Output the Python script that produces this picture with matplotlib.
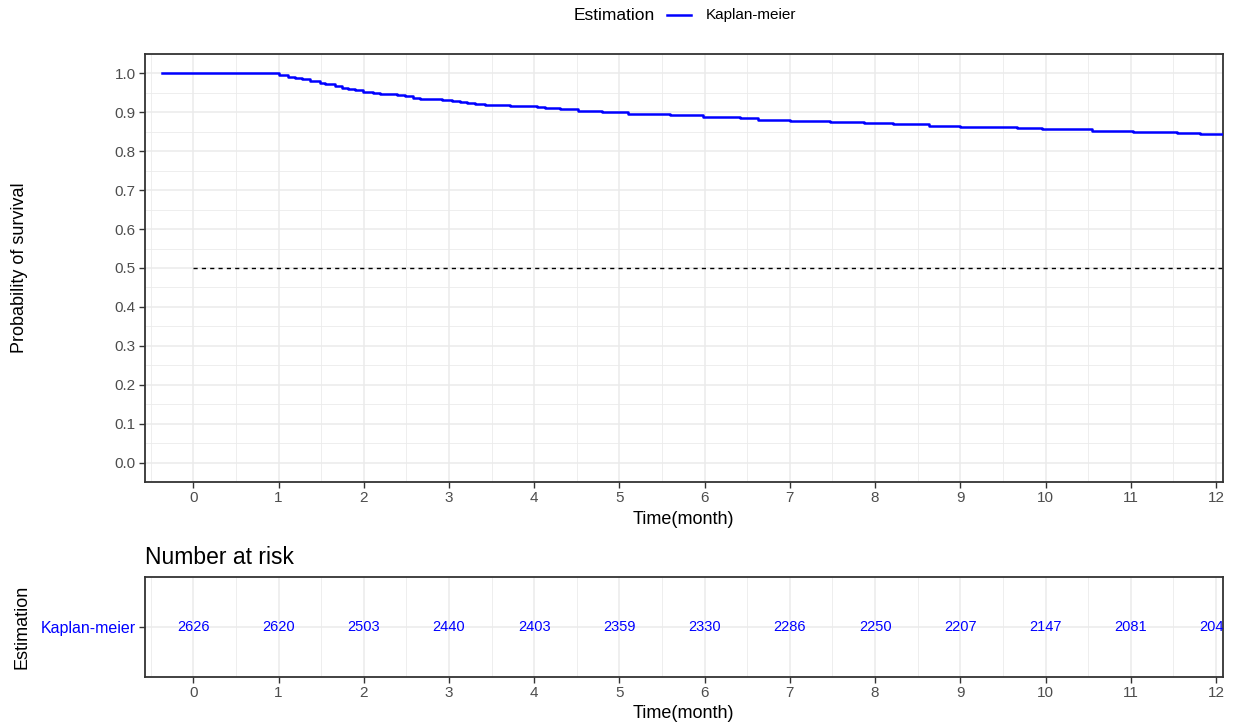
import matplotlib
matplotlib.use("Agg")
import matplotlib.pyplot as plt
from matplotlib.lines import Line2D
from matplotlib.ticker import MultipleLocator
import numpy as np

plt.rcParams['font.family'] = ['Liberation Sans', 'DejaVu Sans']

# ---- data ----
times = [-0.37, 1.0, 1.115, 1.194, 1.272, 1.37, 1.487, 1.546, 1.664, 1.742, 1.82,
         1.898, 1.995, 2.113, 2.19, 2.29, 2.387, 2.485, 2.58, 2.66, 2.915, 3.03,
         3.13, 3.209, 3.306, 3.424, 3.717, 4.03, 4.128, 4.304, 4.52, 4.79, 5.106,
         5.4, 5.595, 5.986, 6.417, 6.63, 7.004, 7.473, 7.868, 8.216, 8.627, 8.996,
         9.661, 9.955, 10.54, 11.03, 11.54, 11.81, 12.08]
surv = [1.0, 0.9967, 0.9915, 0.9879, 0.9846, 0.980, 0.976, 0.9717, 0.9666, 0.9632,
        0.9607, 0.957, 0.953, 0.951, 0.948, 0.946, 0.9434, 0.941, 0.938, 0.935,
        0.931, 0.930, 0.927, 0.9237, 0.922, 0.920, 0.917, 0.9134, 0.910, 0.9075,
        0.903, 0.9005, 0.897, 0.8946, 0.8928, 0.8887, 0.885, 0.881, 0.8774, 0.874,
        0.8715, 0.869, 0.866, 0.863, 0.8586, 0.856, 0.8527, 0.850, 0.8465, 0.8432,
        0.8432]
risk_times = [0, 1, 2, 3, 4, 5, 6, 7, 8, 9, 10, 11, 12]
n_at_risk = [2626, 2620, 2503, 2440, 2403, 2359, 2330, 2286, 2250, 2207, 2147, 2081, 2043]
strata_label = "Kaplan-meier"
legend_title = "Estimation"
median_level = 0.5

W, H = 1236, 728
fig = plt.figure(figsize=(W / 100, H / 100), dpi=100)

def fx(px):
    return px / W

def fy(py):
    return 1 - py / H

XLIM = (-0.570, 12.079)
BLUE = "#0000FF"
GRID = "#EBEBEB"
TICKC = "#4D4D4D"
BORDER = "#333333"

def style_axes(ax):
    for s in ax.spines.values():
        s.set_color(BORDER)
        s.set_linewidth(1.3)
    ax.tick_params(axis='both', colors=BORDER, labelcolor=TICKC, labelsize=11,
                   length=4, width=1.0, pad=2.5)
    ax.tick_params(which='minor', length=0)
    ax.set_axisbelow(True)

# ---- main survival panel ----
ax = fig.add_axes([fx(144.7), fy(482), fx(1222.7) - fx(144.7), fy(54) - fy(482)])
ax.set_xlim(*XLIM)
ax.set_ylim(-0.05, 1.05)
ax.xaxis.set_major_locator(MultipleLocator(1))
ax.xaxis.set_minor_locator(MultipleLocator(0.5))
ax.yaxis.set_major_locator(MultipleLocator(0.1))
ax.yaxis.set_minor_locator(MultipleLocator(0.05))
ax.grid(which='major', color=GRID, linewidth=1.1)
ax.grid(which='minor', color=GRID, linewidth=0.6)
ax.set_yticklabels([f"{v:.1f}" for v in ax.get_yticks()])
style_axes(ax)

ax.step(times, surv, where='post', color=BLUE, linewidth=1.8, zorder=3)
ax.plot([0, XLIM[1]], [median_level, median_level], color='black',
        linestyle=(0, (3, 3)), linewidth=1.0, zorder=2)

fig.text(fx((144.7 + 1222.7) / 2), fy(519), "Time(month)", ha='center', va='center',
         fontsize=13, color='black')
fig.text(fx(20), fy(268), "Probability of survival", rotation=90, ha='center',
         va='center', fontsize=13, color='black')

# ---- legend on top ----
fig.text(fx(574), fy(15), legend_title, ha='left', va='center', fontsize=12.5, color='black')
fig.add_artist(Line2D([fx(667), fx(691)], [fy(15), fy(15)], color=BLUE, linewidth=1.8,
                      transform=fig.transFigure))
fig.text(fx(706), fy(15), strata_label, ha='left', va='center', fontsize=11, color='black')

# ---- risk table ----
rax = fig.add_axes([fx(144.7), fy(677), fx(1222.7) - fx(144.7), fy(577) - fy(677)])
rax.set_xlim(*XLIM)
rax.set_ylim(0.4, 1.6)
rax.xaxis.set_major_locator(MultipleLocator(1))
rax.xaxis.set_minor_locator(MultipleLocator(0.5))
rax.set_yticks([1])
rax.set_yticklabels([strata_label])
rax.grid(which='major', color=GRID, linewidth=1.1)
rax.grid(which='minor', axis='x', color=GRID, linewidth=0.6)
style_axes(rax)
rax.tick_params(axis='y', labelcolor=BLUE, labelsize=11.5)
for t, n in zip(risk_times, n_at_risk):
    rax.text(t, 1, str(n), ha='center', va='center', color=BLUE, fontsize=10.5,
             clip_on=True)

fig.text(fx(145), fy(557), "Number at risk", ha='left', va='center', fontsize=16.5,
         color='black')
fig.text(fx(22), fy(627), legend_title, rotation=90, ha='center', va='center',
         fontsize=13, color='black')
fig.text(fx((144.7 + 1222.7) / 2), fy(714), "Time(month)", ha='center', va='center',
         fontsize=13, color='black')

fig.savefig("out.png", dpi=100)
